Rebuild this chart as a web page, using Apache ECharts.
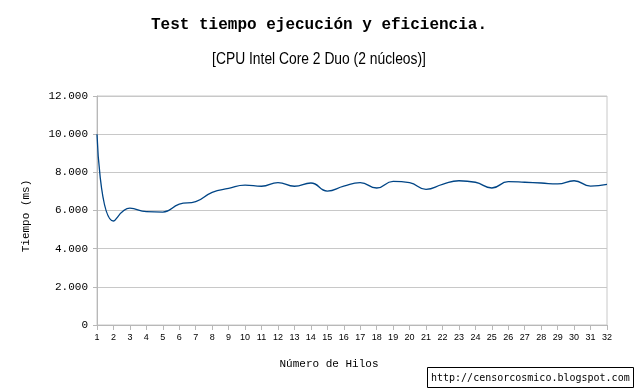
<!DOCTYPE html>
<html>
<head>
<meta charset="utf-8">
<script src="https://cdn.jsdelivr.net/npm/echarts@6/dist/echarts.min.js"></script>
<style>
html,body{margin:0;padding:0;background:#fff;}
#c{width:638px;height:390px;}
</style>
</head>
<body>
<div id="c"></div>
<script>
var hilos = ['1','2','3','4','5','6','7','8','9','10','11','12','13','14','15','16','17','18','19','20','21','22','23','24','25','26','27','28','29','30','31','32'];
var tiempo = [10000,5450,6120,5940,5920,6330,6460,6950,7160,7330,7270,7460,7270,7440,7020,7280,7460,7180,7530,7460,7110,7370,7560,7480,7180,7510,7480,7440,7390,7560,7280,7370];
var yTicks = [0,2000,4000,6000,8000,10000,12000];

var chart = echarts.init(document.getElementById('c'));
chart.setOption({
  animation: false,
  backgroundColor: '#fff',
  title: [
    {text: 'Test tiempo ejecución y eficiencia.', left: 'center', top: 12,
     textStyle: {fontFamily: 'Liberation Mono', fontWeight: 'bold', fontSize: 16, color: '#000'}}
  ],
  grid: {left: 97, right: 31, top: 96, bottom: 65, show: true, borderColor: '#c8c8c8', borderWidth: 1},
  xAxis: {
    type: 'category', data: hilos, boundaryGap: false,
    axisLine: {lineStyle: {color: '#b8b8b8'}},
    axisTick: {show: true, length: 5, lineStyle: {color: '#b8b8b8'}, interval: 0},
    axisLabel: {interval: 0, margin: 8, fontSize: 9, fontFamily: 'Liberation Sans', color: '#000'},
    splitLine: {show: false}
  },
  yAxis: {
    type: 'value', min: yTicks[0], max: yTicks[yTicks.length-1], interval: 2000,
    axisLine: {show: true, lineStyle: {color: '#b8b8b8'}},
    axisTick: {show: true, length: 4, lineStyle: {color: '#b8b8b8'}},
    axisLabel: {margin: 9, fontSize: 11, fontFamily: 'Liberation Mono', color: '#000',
      formatter: function(v){ return String(v).replace(/\B(?=(\d{3})+(?!\d))/g, '.'); }},
    splitLine: {lineStyle: {color: '#c8c8c8', width: 1}}
  },
  series: [{
    type: 'line', data: tiempo, smooth: 0.5, showSymbol: false,
    lineStyle: {color: '#004586', width: 1.3}
  }],
  graphic: [
    {type: 'text', x: 319, y: 60, scaleX: 0.865, style: {text: '[CPU Intel Core 2 Duo (2 núcleos)]', font: '16px "Liberation Sans"', fill: '#000', align: 'center', verticalAlign: 'middle'}},
    {type: 'text', x: 329, y: 364, style: {text: 'Número de Hilos', font: '11px "Liberation Mono"', fill: '#000', align: 'center', verticalAlign: 'middle'}},
    {type: 'text', x: 26, y: 216, rotation: Math.PI/2, style: {text: 'Tiempo (ms)', font: '11px "Liberation Mono"', fill: '#000', align: 'center', verticalAlign: 'middle'}},
    {type: 'rect', shape: {x: 427.5, y: 367.5, width: 206, height: 20}, style: {fill: '#fff', stroke: '#000', lineWidth: 1}},
    {type: 'text', x: 431, y: 378, style: {text: 'http://censorcosmico.blogspot.com', font: '10px "DejaVu Sans Mono"', fill: '#000', verticalAlign: 'middle'}}
  ]
});
</script>
</body>
</html>
